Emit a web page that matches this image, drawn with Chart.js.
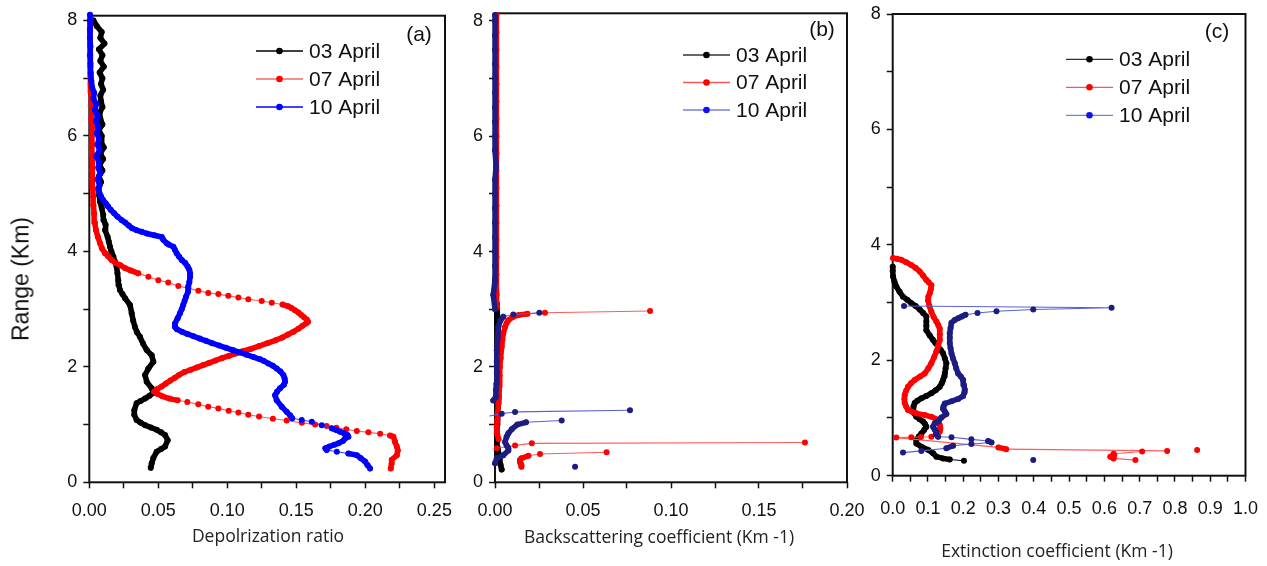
<!DOCTYPE html>
<html lang="en">
<head>
<meta charset="utf-8">
<title>Lidar profiles: depolarization, backscattering and extinction</title>
<script src="https://cdn.jsdelivr.net/npm/chart.js@4.4.1/dist/chart.umd.min.js"></script>
<style>
  html, body { margin: 0; padding: 0; background: #fff; }
  body { position: relative; width: 1267px; height: 566px; overflow: hidden; }
  canvas { position: absolute; top: 0; }
  .axis-title { position: absolute; transform: translate(-50%, -50%); white-space: nowrap;
                font: 17.5px "Open Sans", "DejaVu Sans", sans-serif; color: #222; z-index: 2; }
  #rangeTitle { left: 21px; top: 279px; transform: translate(-50%, -50%) rotate(-90deg);
                font: 23px "Liberation Sans", Arial, sans-serif; color: #111; }
</style>
</head>
<body>
<canvas id="panelA" width="470" height="566" style="left:0px"></canvas>
<canvas id="panelB" width="430" height="566" style="left:440px"></canvas>
<canvas id="panelC" width="427" height="566" style="left:840px"></canvas>
<div class="axis-title" id="rangeTitle">Range (Km)</div>
<div class="axis-title" style="left:268px; top:535px;">Depolrization ratio</div>
<div class="axis-title" style="left:659px; top:536px;">Backscattering coefficient (Km -1)</div>
<div class="axis-title" style="left:1057px; top:550px;">Extinction coefficient (Km -1)</div>
<script>
// ---------- series labels ----------
const seriesLabels = ['03 April', '07 April', '10 April'];

// ---------- axis ticks ----------
const rangeTicks  = [0, 1, 2, 3, 4, 5, 6, 7, 8];
const rangeLabels = ['0', '2', '4', '6', '8'];
const depolTicks  = [0, 0.025, 0.05, 0.075, 0.10, 0.125, 0.15, 0.175, 0.20, 0.225, 0.25];
const depolLabels = ['0.00', '0.05', '0.10', '0.15', '0.20', '0.25'];
const backTicks   = [0, 0.025, 0.05, 0.075, 0.10, 0.125, 0.15, 0.175, 0.20];
const backLabels  = ['0.00', '0.05', '0.10', '0.15', '0.20'];
const extTicks    = [0, 0.05, 0.1, 0.15, 0.2, 0.25, 0.3, 0.35, 0.4, 0.45, 0.5, 0.55, 0.6, 0.65, 0.7, 0.75, 0.8, 0.85, 0.9, 0.95, 1.0];
const extLabels   = ['0.0', '0.1', '0.2', '0.3', '0.4', '0.5', '0.6', '0.7', '0.8', '0.9', '1.0'];

// ---------- (a) depolarization ratio ----------
const depolRange03 = [0.25,0.33,0.42,0.53,0.575,0.62,0.73,0.82,0.865,0.91,0.95,0.99,1.035,1.08,1.17,1.25,1.37,1.41,1.45,1.50,1.55,1.63,1.74,1.86,1.97,2.09,2.20,2.29,2.40,2.52,2.60,2.69,2.80,2.93,3.07,3.19,3.26,3.33,3.42,3.50,3.62,3.73,3.82,3.91,4.00,4.08,4.17,4.25,4.37,4.46,4.54,4.63,4.75,4.86,4.97,5.09,
  5.20,5.30,5.40,5.50,5.60,5.70,5.80,5.90,6.00,6.10,6.20,6.30,6.40,6.50,6.60,6.70,6.80,6.90,7.00,7.10,7.20,7.30,7.40,7.50,7.60,7.70,7.80,7.90,8.00];
const depolValue03 = [0.0445,0.0452,0.0464,0.0488,0.0520,0.0549,0.0568,0.0549,0.0520,0.0488,0.0446,0.0404,0.0370,0.0343,0.0326,0.0326,0.0343,0.0372,0.0404,0.0436,0.0464,0.0452,0.0416,0.0404,0.0428,0.0464,0.0452,0.0416,0.0390,0.0367,0.0345,0.0331,0.0318,0.0307,0.0295,0.0259,0.0240,0.0222,0.0214,0.0210,0.0204,0.0198,0.0186,0.0174,0.0160,0.0150,0.0141,0.0133,0.0114,0.0118,0.0105,0.0101,0.0090,0.0078,0.0072,0.0065,
  0.0085,0.0070,0.0095,0.0075,0.0100,0.0080,0.0105,0.0085,0.0090,0.0070,0.0095,0.0080,0.0075,0.0095,0.0085,0.0080,0.0100,0.0085,0.0095,0.0075,0.0105,0.0080,0.0095,0.0070,0.0110,0.0080,0.0090,0.0055,0.0030];

const depolRange07 = [0.24,0.32,0.39,0.47,0.55,0.62,0.70,0.79,
  0.81,0.84,0.865,0.89,0.92,0.945,0.975,1.00,1.03,1.07,
  1.10,1.14,1.17,1.21,1.24,1.28,1.31,1.35,1.39,1.42,
  1.45,1.49,1.53,1.57,
  1.61,1.66,1.71,1.76,1.81,1.86,1.91,1.95,1.99,2.03,
  2.07,2.11,2.15,2.19,2.23,2.27,2.31,2.36,2.41,2.46,
  2.51,2.56,2.61,2.66,2.71,2.75,2.78,
  2.82,2.86,2.90,2.94,2.98,3.02,3.05,
  3.08,3.11,3.14,3.17,3.20,3.23,3.26,3.28,3.32,3.36,
  3.40,3.46,3.50,3.56,3.62,3.67,3.71,3.76,3.80,
  3.85,3.92,3.97,4.05,4.14,4.25,4.37,4.50,4.65,4.80,
  4.95,5.10,5.25,5.40,5.55,5.70,5.85,6.00,6.15,6.30,
  6.45,6.60,6.75,6.90,7.05,7.20,7.40,7.60,7.80,8.00];
const depolValue07 = [0.2184,0.2190,0.2191,0.2228,0.2235,0.2228,0.2215,0.2203,
  0.2179,0.2107,0.2022,0.1938,0.1862,0.1790,0.1720,0.1636,0.1540,0.1430,
  0.1330,0.1230,0.1152,0.1080,0.1010,0.0935,0.0862,0.0790,0.0710,0.0640,
  0.0580,0.0530,0.0495,0.0470,
  0.0490,0.0525,0.0555,0.0585,0.0620,0.0650,0.0690,0.0735,0.0780,0.0825,
  0.0870,0.0915,0.0960,0.1010,0.1060,0.1110,0.1170,0.1230,0.1290,0.1350,
  0.1400,0.1440,0.1480,0.1515,0.1545,0.1570,0.1585,
  0.1575,0.1555,0.1535,0.1515,0.1490,0.1465,0.1440,
  0.1400,0.1322,0.1249,0.1152,0.1080,0.1007,0.0935,0.0862,0.0790,0.0717,
  0.0645,0.0572,0.0500,0.0428,0.0355,0.0300,0.0260,0.0225,0.0190,
  0.0162,0.0135,0.0114,0.0092,0.0078,0.0062,0.0048,0.0040,0.0035,0.0030,
  0.0028,0.0025,0.0022,0.0020,0.0022,0.0018,0.0020,0.0018,0.0020,0.0015,
  0.0018,0.0015,0.0012,0.0010,0.0008,0.0008,0.0006,0.0005,0.0005,0.0008];

const depolRange10 = [0.24,0.30,0.36,0.42,0.47,0.50,0.53,0.56,0.59,0.62,
  0.65,0.675,0.72,0.76,0.79,0.82,0.85,0.875,0.905,0.935,
  0.99,1.05,1.08,1.11,1.16,1.22,1.31,1.42,1.51,1.57,
  1.63,1.69,1.74,1.80,1.86,1.92,1.97,2.02,2.06,2.10,
  2.13,2.17,2.21,2.25,2.29,2.33,2.37,2.41,2.45,2.49,
  2.53,2.57,2.61,2.65,2.69,2.75,2.84,2.93,3.00,3.07,
  3.14,3.21,3.30,3.39,3.47,3.56,3.62,3.68,3.74,3.80,
  3.85,3.91,3.97,4.03,4.08,4.12,4.14,4.20,4.25,4.28,
  4.31,4.34,4.37,4.40,4.45,4.50,4.54,4.60,4.66,4.72,
  4.78,4.83,4.89,4.95,5.06,
  5.15,5.25,5.35,5.45,5.55,5.65,5.75,5.85,5.95,6.05,
  6.15,6.25,6.35,6.45,6.55,6.65,6.75,6.85,6.95,7.10,
  7.25,7.40,7.55,7.70,7.85,8.00,8.10];
const depolValue10 = [0.2034,0.2015,0.1998,0.1965,0.1938,0.1877,0.1793,0.1720,0.1710,0.1740,
  0.1775,0.1805,0.1840,0.1853,0.1877,0.1870,0.1845,0.1817,0.1790,0.1756,
  0.1684,0.1612,0.1539,0.1470,0.1455,0.1430,0.1394,0.1358,0.1346,0.1360,
  0.1382,0.1410,0.1418,0.1415,0.1406,0.1385,0.1358,0.1330,0.1297,0.1265,
  0.1237,0.1190,0.1140,0.1090,0.1040,0.0990,0.0940,0.0890,0.0845,0.0800,
  0.0755,0.0710,0.0670,0.0635,0.0621,0.0621,0.0640,0.0657,0.0670,0.0680,
  0.0690,0.0700,0.0715,0.0717,0.0725,0.0730,0.0730,0.0725,0.0712,0.0695,
  0.0670,0.0650,0.0633,0.0620,0.0609,0.0575,0.0561,0.0536,0.0525,0.0470,
  0.0416,0.0380,0.0340,0.0310,0.0285,0.0260,0.0235,0.0205,0.0180,0.0155,
  0.0135,0.0120,0.0100,0.0085,0.0068,
  0.0075,0.0060,0.0080,0.0065,0.0070,0.0050,0.0075,0.0060,0.0070,0.0055,
  0.0065,0.0050,0.0060,0.0040,0.0050,0.0030,0.0035,0.0020,0.0015,0.0010,
  0.0008,0.0005,0.0008,0.0005,0.0005,0.0005,0.0005];

// ---------- (b) backscattering coefficient (null = break in the profile) ----------
const backRange03 = [0.22,0.30,0.40,0.50,0.60,0.72,0.85,1.00,1.15,1.30,1.45,1.60,1.75,1.90,2.05,2.20,2.35,2.50,2.65,2.80,2.95,3.10,3.25,3.40,3.55];
const backValue03 = [0.0038,0.0032,0.0026,0.0020,0.0016,0.0012,0.0010,0.0012,0.0014,0.0016,0.0018,0.0020,0.0022,0.0022,0.0022,0.0022,0.0020,0.0018,0.0016,0.0014,0.0012,0.0010,0.0008,0.0005,0.0003];

const backRange07 = [0.27,0.30,0.33,0.36,0.385,0.415,0.46,0.49,0.52, null,
  0.59,0.64,0.675,0.69, null,
  0.75,0.85,0.95,1.08,1.20,1.37,1.50,1.66,1.85,2.00,2.15,2.35,2.47,2.58,2.69,2.76,2.81,2.87,2.90,2.92,2.94,2.97, null,
  3.02,3.30,3.60,3.90,4.20,4.50,4.80,5.10,5.40,5.70,6.00,6.30,6.60,6.90,7.20,7.50,7.80,8.10];
const backValue07 = [0.0150,0.0150,0.0145,0.0142,0.0142,0.0150,0.0190,0.0256,0.0634, null,
  0.0010,0.0114,0.0209,0.1761, null,
  0.0020,0.0012,0.0010,0.0013,0.0015,0.0019,0.0022,0.0024,0.0026,0.0028,0.0032,0.0038,0.0042,0.0047,0.0057,0.0066,0.0076,0.0104,0.0135,0.0184,0.0284,0.0881, null,
  0.0008,0.0008,0.0008,0.0008,0.0008,0.0008,0.0008,0.0008,0.0008,0.0008,0.0008,0.0008,0.0008,0.0008,0.0008,0.0008,0.0008,0.0008];

const backRange10 = [0.27, null,
  0.33,0.415,0.47,0.55,0.59,0.64,0.70,0.79,0.85,0.92,1.00,1.04,1.07, null,
  1.15,1.19,1.22,1.25, null,
  1.42,1.48,1.60,1.71,1.90,2.10,2.29,2.50,2.69,2.80,2.87,2.91,2.94, null,
  3.00,3.25,3.50,3.75,4.00,4.25,4.50,4.75,5.00,5.25,5.48,5.75,6.00,6.25,6.50,6.75,7.00,7.25,7.50,7.75,8.00,8.10];
const backValue10 = [0.0455, null,
  0.0000,0.0010,0.0047,0.0076,0.0076,0.0066,0.0057,0.0066,0.0076,0.0095,0.0127,0.0176,0.0379, null,
  -0.0030,0.0038,0.0114,0.0767, null,
  -0.0010,0.0005,0.0005,0.0008,0.0010,0.0010,0.0010,0.0015,0.0019,0.0030,0.0047,0.0104,0.0252, null,
  0.0000,-0.0010,0.0000,0.0000,0.0000,0.0000,0.0000,0.0000,0.0000,0.0000,0.0006,0.0000,0.0000,0.0000,0.0000,0.0000,0.0000,0.0000,0.0000,0.0000,0.0000,0.0000];

// ---------- (c) extinction coefficient ----------
const extRange03 = [0.26,0.28,0.30,0.33,0.39,0.45,0.50,0.56,0.62,0.68,0.73,0.79,0.85,0.90,0.94,0.98,1.02,1.08,1.14,1.20,1.26,1.30,1.34,1.38,1.43,1.48,1.54,1.60,1.66,1.72,1.77,1.86,1.95,2.03,2.12,2.18,2.24,2.30,2.35,2.43,2.52,2.60,2.67,2.76,2.82,2.88,2.94,2.99,3.05,3.10,3.19,3.28,3.36,3.45,3.55,3.62];
const extValue03 = [0.2020,0.1617,0.1428,0.1238,0.1144,0.1002,0.0812,0.0670,0.0670,0.0740,0.0812,0.0890,0.0954,0.0910,0.0860,0.0760,0.0670,0.0610,0.0576,0.0590,0.0624,0.0700,0.0812,0.0950,0.1096,0.1220,0.1334,0.1390,0.1428,0.1460,0.1476,0.1500,0.1522,0.1480,0.1428,0.1360,0.1286,0.1210,0.1144,0.1050,0.0954,0.0954,0.0954,0.0954,0.0860,0.0766,0.0650,0.0528,0.0410,0.0292,0.0190,0.0102,0.0050,0.0010,0.0000,0.0000];

const extRange07 = [0.27,0.30,0.33,0.36,0.38,0.42, null, 0.445, null,
  0.43,0.46,0.49,0.66,0.665,0.67,0.675,0.76,0.82,0.88,0.93,0.97,1.02,1.05,1.08,1.11,1.14,1.20,1.26,1.33,1.40,1.47,1.54,1.60,1.66,1.72,1.77,1.86,1.95,2.05,2.15,2.25,2.35,2.45,2.55,2.61,2.67,2.75,2.84,2.94,3.04,3.10,3.16,3.23,3.30,3.35,3.39,3.47,3.54,3.60,3.65,3.70,3.74,3.76,3.77];
const extValue07 = [0.6880,0.6260,0.6170,0.6280,0.6260,0.7070, null, 0.8629, null,
  0.7780,0.3216,0.2996,0.0102,0.0528,0.0800,0.1096,0.1334,0.1350,0.1334,0.1300,0.1286,0.1096,0.0908,0.0670,0.0550,0.0434,0.0380,0.0341,0.0330,0.0341,0.0380,0.0434,0.0520,0.0624,0.0780,0.0908,0.1010,0.1096,0.1170,0.1238,0.1290,0.1334,0.1334,0.1334,0.1290,0.1238,0.1160,0.1096,0.1040,0.1002,0.1010,0.1050,0.1080,0.1096,0.1020,0.0955,0.0860,0.0766,0.0650,0.0528,0.0380,0.0244,0.0120,0.0010];

const extRange10 = [0.27, null,
  0.40,0.43,0.475,0.52,0.55,0.575,0.60,0.63,0.665,0.675,0.72,0.76,0.80,0.85,0.91,0.94,1.01,1.07,1.12,1.16,1.20,1.25,1.29,1.33,1.38,1.44,1.49,1.57,1.66,1.72,1.77,1.86,1.95,2.03,2.12,2.21,2.30,2.39,2.47,2.56,2.65,2.70,2.73,2.76,2.79,2.82,2.85,2.88,2.91,2.94];
const extValue10 = [0.3983, null,
  0.0292,0.0812,0.1522,0.1710,0.2230,0.2800,0.2705,0.2230,0.1666,0.1286,0.1220,0.1238,0.1190,0.1144,0.1192,0.1286,0.1380,0.1522,0.1470,0.1428,0.1440,0.1476,0.1666,0.1855,0.1997,0.2030,0.2043,0.2020,0.1997,0.1930,0.1855,0.1800,0.1760,0.1710,0.1666,0.1640,0.1617,0.1617,0.1617,0.1640,0.1666,0.1760,0.1855,0.1960,0.2063,0.2403,0.2942,0.3983,0.6204,0.0321];

// ---------- styling ----------
const INK = '#111111';
const FONT = '"Liberation Sans", Arial, sans-serif';
Chart.defaults.font.family = FONT;

// Consecutive samples whose markers overlap are bridged by a solid band in the
// marker colour; samples that stand apart are joined by a thin connector.
const DENSE_PX = 9, VERTICAL_PX = 2.5;
function isDense(ctx) {
  const dx = Math.abs(ctx.p1.x - ctx.p0.x), dy = Math.abs(ctx.p1.y - ctx.p0.y);
  return Math.hypot(dx, dy) <= DENSE_PX || dx <= VERTICAL_PX;
}

function profile(label, ranges, values, marker, line, order) {
  return {
    label, order,
    data: ranges.map((r, i) => ({ x: values[i], y: r })),
    showLine: true, spanGaps: false, clip: false,
    borderColor: line, borderWidth: 1.1,
    borderCapStyle: 'round', borderJoinStyle: 'round',
    pointRadius: 3, pointHoverRadius: 3, pointBorderWidth: 0,
    pointBackgroundColor: marker,
    segment: {
      borderWidth: ctx => isDense(ctx) ? 5.5 : 1.1,
      borderColor: ctx => isDense(ctx) ? marker : line
    }
  };
}

// Box frame, panel tag and in-plot legend
const panelDeco = {
  id: 'panelDeco',
  beforeDatasetsDraw(chart) {
    const { ctx, chartArea: a } = chart;
    ctx.save();
    ctx.strokeStyle = INK; ctx.lineWidth = 2;
    ctx.strokeRect(a.left, a.top, a.right - a.left, a.bottom - a.top);
    ctx.restore();
  },
  afterDraw(chart, args, o) {
    const { ctx, chartArea: a } = chart;
    ctx.save();
    ctx.font = '21px ' + FONT;
    ctx.textBaseline = 'middle';
    ctx.fillStyle = INK;
    ctx.textAlign = 'center';
    ctx.fillText(o.tag, a.right - o.tagDx, a.top + o.tagDy);
    ctx.textAlign = 'left';
    o.keys.forEach((k, i) => {
      const y = a.top + o.rowTop + i * o.rowGap;
      const x0 = a.right - o.lineFromRight;
      ctx.strokeStyle = k.line; ctx.lineWidth = 1.3;
      ctx.beginPath(); ctx.moveTo(x0, y); ctx.lineTo(x0 + 47, y); ctx.stroke();
      ctx.fillStyle = k.dot;
      ctx.beginPath(); ctx.arc(x0 + 23.5, y, 3.3, 0, Math.PI * 2); ctx.fill();
      ctx.fillStyle = INK;
      ctx.fillText(seriesLabels[i], x0 + 53, y + 1);
    });
    ctx.restore();
  }
};

const labelFor = labels => v => {
  const hit = labels.find(l => Math.abs(parseFloat(l) - v) < 1e-9);
  return hit === undefined ? '' : hit;
};

function buildPanel(canvasId, p) {
  return new Chart(document.getElementById(canvasId), {
    type: 'scatter',
    data: { datasets: p.datasets },
    options: {
      responsive: false, animation: false, events: [],
      layout: { padding: { left: 0, top: p.padTop, right: p.padRight, bottom: 0 } },
      plugins: { legend: { display: false }, tooltip: { enabled: false }, panelDeco: p.deco },
      scales: {
        x: {
          type: 'linear', position: 'bottom', min: p.xMin, max: p.xMax,
          afterBuildTicks: s => { s.ticks = p.xTicks.map(v => ({ value: v })); },
          afterFit: s => { s.height = p.xAxisHeight; s.paddingLeft = 0; s.paddingRight = 0; },
          ticks: { autoSkip: false, maxRotation: 0, minRotation: 0, padding: p.xTickPad,
                   color: INK, font: { size: 18 }, callback: labelFor(p.xLabels) },
          grid: { drawOnChartArea: false, drawTicks: true, tickLength: 6, tickColor: INK, tickWidth: 1.5 },
          border: { display: false }
        },
        y: {
          type: 'linear', position: 'left', min: 0, max: p.yMax,
          afterBuildTicks: s => { s.ticks = rangeTicks.map(v => ({ value: v })); },
          afterFit: s => { s.width = p.yAxisWidth; s.paddingTop = 0; s.paddingBottom = 0; },
          ticks: { autoSkip: false, padding: 6, color: INK, font: { size: 18 }, callback: labelFor(rangeLabels) },
          grid: { drawOnChartArea: false, drawTicks: true, tickLength: 6, tickColor: INK, tickWidth: 1.5 },
          border: { display: false }
        }
      }
    },
    plugins: [panelDeco]
  });
}

// colours
const BLACK = '#000000', RED = '#ff0000', RED_LINE = '#ff5c5c';
const BLUE = '#0000ff', BLUE_LINE = '#3344ff';
const NAVY = '#1c1c82', NAVY_LINE = '#5b62cf';
const legendA = [{ dot: BLACK, line: BLACK }, { dot: RED, line: '#f06a6a' }, { dot: BLUE, line: BLUE }];
const legendBC = [{ dot: BLACK, line: '#333333' }, { dot: RED, line: '#f05a5a' }, { dot: '#1010f0', line: '#7280e0' }];

buildPanel('panelA', {
  datasets: [
    profile(seriesLabels[0], depolRange03, depolValue03, BLACK, BLACK, 2),
    profile(seriesLabels[1], depolRange07, depolValue07, RED, RED_LINE, 1),
    profile(seriesLabels[2], depolRange10, depolValue10, BLUE, BLUE_LINE, 0)
  ],
  xMin: 0, xMax: 0.2577, yMax: 8.083, xTicks: depolTicks, xLabels: depolLabels,
  padTop: 15.7, padRight: 25, yAxisWidth: 89.3, xAxisHeight: 83.7, xTickPad: 11.5,
  deco: { tag: '(a)', tagDx: 26, tagDy: 19.3, keys: legendA, lineFromRight: 189, rowTop: 35.3, rowGap: 28 }
});

buildPanel('panelB', {
  datasets: [
    profile(seriesLabels[0], backRange03, backValue03, BLACK, BLACK, 2),
    profile(seriesLabels[1], backRange07, backValue07, RED, RED_LINE, 1),
    profile(seriesLabels[2], backRange10, backValue10, NAVY, NAVY_LINE, 0)
  ],
  xMin: 0, xMax: 0.2, yMax: 8.13, xTicks: backTicks, xLabels: backLabels,
  padTop: 13.3, padRight: 23, yAxisWidth: 55, xAxisHeight: 83.7, xTickPad: 11.5,
  deco: { tag: '(b)', tagDx: 25, tagDy: 16.7, keys: legendBC, lineFromRight: 164, rowTop: 41.7, rowGap: 27.5 }
});

buildPanel('panelC', {
  datasets: [
    profile(seriesLabels[0], extRange03, extValue03, BLACK, BLACK, 2),
    profile(seriesLabels[1], extRange07, extValue07, RED, RED_LINE, 1),
    profile(seriesLabels[2], extRange10, extValue10, NAVY, NAVY_LINE, 0)
  ],
  xMin: 0, xMax: 1.0, yMax: 8, xTicks: extTicks, xLabels: extLabels,
  padTop: 14, padRight: 21.5, yAxisWidth: 52.7, xAxisHeight: 90.3, xTickPad: 17,
  deco: { tag: '(c)', tagDx: 28.5, tagDy: 18, keys: legendBC, lineFromRight: 179.5, rowTop: 45.3, rowGap: 28 }
});
</script>
</body>
</html>
